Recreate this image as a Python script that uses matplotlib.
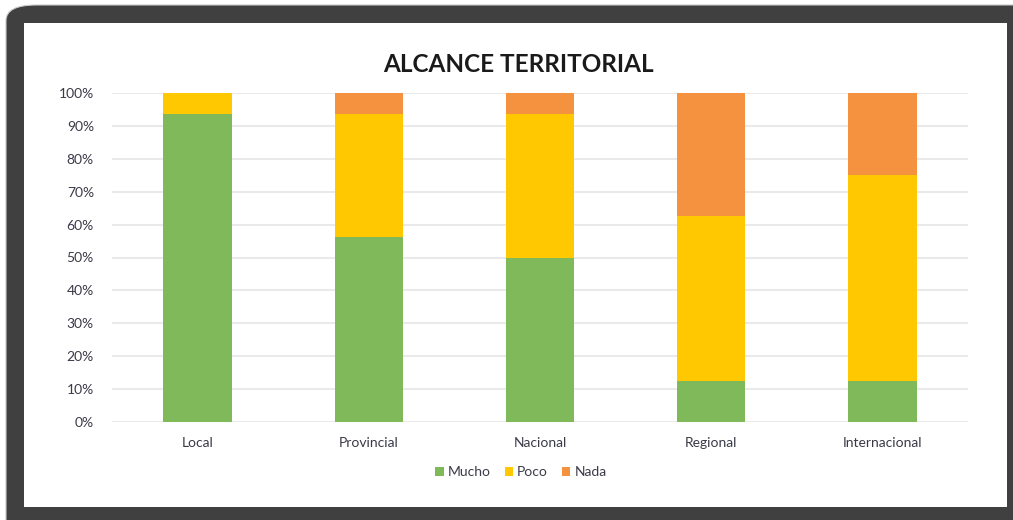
import matplotlib.pyplot as plt
from matplotlib.patches import FancyBboxPatch, Rectangle
from matplotlib.ticker import PercentFormatter

categorias = ["Local", "Provincial", "Nacional", "Regional", "Internacional"]
mucho = [93.75, 56.25, 50.0, 12.5, 12.5]
poco = [6.25, 37.5, 43.75, 50.0, 62.5]
nada = [0.0, 6.25, 6.25, 37.5, 25.0]

colores = {"Mucho": "#80B95A", "Poco": "#FFC800", "Nada": "#F49240"}
texto = "#3a3a48"

plt.rcParams['font.family'] = ['Lato', 'DejaVu Sans']

fig = plt.figure(figsize=(10.13, 5.2), dpi=100)
fig.patch.set_facecolor("white")

# marco oscuro y panel blanco
W, H = 1013, 520
fig.patches.append(FancyBboxPatch((6 / W, -0.2), 1.2, (515 / H) + 0.2,
                                  boxstyle="round,pad=0,rounding_size=0.03",
                                  transform=fig.transFigure, facecolor="#404040",
                                  edgecolor="#c8c8c8", linewidth=0.8, zorder=0))
fig.patches.append(Rectangle((24 / W, 13 / H), (1007 - 24) / W, (507 - 23) / H,
                             transform=fig.transFigure, facecolor="white",
                             edgecolor="none", zorder=1))

ax = fig.add_axes([112 / W, (H - 422) / H, (968 - 112) / W, (422 - 93) / H])
ax.set_facecolor("none")
ax.set_zorder(2)

x = range(len(categorias))
base2 = [m + p for m, p in zip(mucho, poco)]
ax.bar(x, mucho, width=0.4, color=colores["Mucho"], label="Mucho", zorder=3)
ax.bar(x, poco, width=0.4, bottom=mucho, color=colores["Poco"], label="Poco", zorder=3)
ax.bar(x, nada, width=0.4, bottom=base2, color=colores["Nada"], label="Nada", zorder=3)

ax.set_xlim(-0.5, 4.5)
ax.set_ylim(0, 100)
ax.set_yticks(range(0, 101, 10))
ax.yaxis.set_major_formatter(PercentFormatter(decimals=0))
ax.grid(axis="y", color="#EAEAEA", linewidth=1.5, zorder=0)
for s in ax.spines.values():
    s.set_visible(False)
ax.tick_params(axis="both", length=0, colors=texto, labelsize=10)
ax.tick_params(axis="y", pad=13)
ax.tick_params(axis="x", pad=11)
ax.set_xticks(list(x))
ax.set_xticklabels(categorias)

fig.text(518 / W, (H - 64) / H, "ALCANCE TERRITORIAL", ha="center", va="center",
         fontsize=17.5, fontweight="bold", color="#1a1a1a", zorder=5)

leg = fig.legend(loc="center", bbox_to_anchor=(521 / W, (H - 472) / H), ncol=3,
                 frameon=False, fontsize=10, handlelength=0.6, handleheight=0.6,
                 handletextpad=0.3, columnspacing=1.0)
for t in leg.get_texts():
    t.set_color(texto)
leg.set_zorder(5)

fig.savefig("out.png", dpi=100)
